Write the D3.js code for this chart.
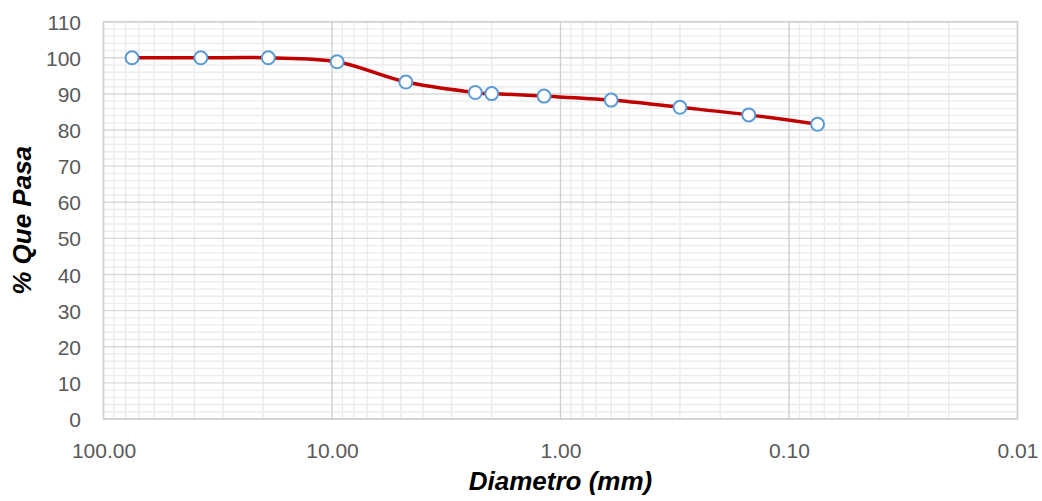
<!DOCTYPE html>
<html><head><meta charset="utf-8">
<script src="https://cdn.jsdelivr.net/npm/d3@7"></script>
<style>html,body{margin:0;padding:0;background:#fff;}svg{display:block;}</style>
</head><body>
<svg id="chart" width="1042" height="501"></svg>
<script>
const diameters = [75, 37.5, 19.0, 9.5, 4.75, 2.36, 2.0, 1.18, 0.60, 0.30, 0.15, 0.075];
const passing = [100, 100, 100, 98.9, 93.3, 90.4, 90.1, 89.4, 88.3, 86.3, 84.2, 81.6];
const xTicks = [100, 10, 1, 0.1, 0.01];
const yTicks = [0, 10, 20, 30, 40, 50, 60, 70, 80, 90, 100, 110];
const xTitle = "Diametro (mm)";
const yTitle = "% Que Pasa";

const svg = d3.select("#chart");
const L = 103.5, R = 1017.5, T = 21.7, B = 419;
const x = d3.scaleLog().domain([100, 0.01]).range([L, R]);
const y = d3.scaleLinear().domain([0, 110]).range([B, T]);

const g = svg.append("g");
// minor vertical grid
const minorX = [];
for (let e = -2; e < 2; e++) for (let k = 2; k <= 9; k++) minorX.push(k * Math.pow(10, e));
g.selectAll(".mx").data(minorX).enter().append("line")
  .attr("x1", d => x(d)).attr("x2", d => x(d)).attr("y1", T).attr("y2", B)
  .attr("stroke", "#ebebeb").attr("stroke-width", 1.4);
// minor horizontal grid
const minorY = d3.range(0, 111, 2).filter(v => v % 10 !== 0);
g.selectAll(".my").data(minorY).enter().append("line")
  .attr("x1", L).attr("x2", R).attr("y1", d => y(d)).attr("y2", d => y(d))
  .attr("stroke", "#ececec").attr("stroke-width", 1.4);
// major horizontal
g.selectAll(".My").data(yTicks).enter().append("line")
  .attr("x1", L).attr("x2", R).attr("y1", d => y(d)).attr("y2", d => y(d))
  .attr("stroke", "#d9d9d9").attr("stroke-width", 1.4);
// major vertical
g.selectAll(".Mx").data(xTicks).enter().append("line")
  .attr("x1", d => x(d)).attr("x2", d => x(d)).attr("y1", T).attr("y2", B)
  .attr("stroke", "#cfcfcf").attr("stroke-width", 1.4);
// border
g.append("rect").attr("x", L).attr("y", T).attr("width", R - L).attr("height", B - T)
  .attr("fill", "none").attr("stroke", "#cfcfcf").attr("stroke-width", 1.4);

// y tick labels
const yAxis = d3.axisLeft(y).tickValues(yTicks).tickSize(0).tickPadding(0).tickFormat(d3.format("d"));
const ya = svg.append("g").attr("transform", `translate(81,0)`).call(yAxis);
ya.select(".domain").remove();
ya.selectAll("text").attr("font-family", "Liberation Sans, Arial").attr("font-size", 21).attr("fill", "#595959").attr("dy", "0.36em");

// x tick labels
const xAxis = d3.axisBottom(x).tickValues(xTicks).tickSize(0).tickPadding(0).tickFormat(d3.format(".2f"));
const xa = svg.append("g").attr("transform", `translate(0,458)`).call(xAxis);
xa.select(".domain").remove();
xa.selectAll("text").attr("font-family", "Liberation Sans, Arial").attr("font-size", 21).attr("fill", "#595959").attr("dy", 0);

// titles
svg.append("text").attr("x", (L + R) / 2).attr("y", 490).attr("text-anchor", "middle")
  .attr("font-family", "Liberation Sans, Arial").attr("font-weight", "bold").attr("font-style", "italic")
  .attr("font-size", 26).attr("fill", "#000").text(xTitle);
svg.append("text").attr("transform", `translate(31,${(T + B) / 2}) rotate(-90)`).attr("text-anchor", "middle")
  .attr("font-family", "Liberation Sans, Arial").attr("font-weight", "bold").attr("font-style", "italic")
  .attr("font-size", 26).attr("fill", "#000").text(yTitle);

const data = diameters.map((d, i) => ({d, p: passing[i]}));
const line = d3.line().x(d => x(d.d)).y(d => y(d.p)).curve(d3.curveCardinal.tension(0));
svg.append("path").datum(data).attr("d", line).attr("fill", "none")
  .attr("stroke", "#c00000").attr("stroke-width", 3.5);
svg.selectAll(".pt").data(data).enter().append("circle")
  .attr("cx", d => x(d.d)).attr("cy", d => y(d.p)).attr("r", 6.5)
  .attr("fill", "#fff").attr("stroke", "#5b9bd5").attr("stroke-width", 2);
</script>
</body></html>
